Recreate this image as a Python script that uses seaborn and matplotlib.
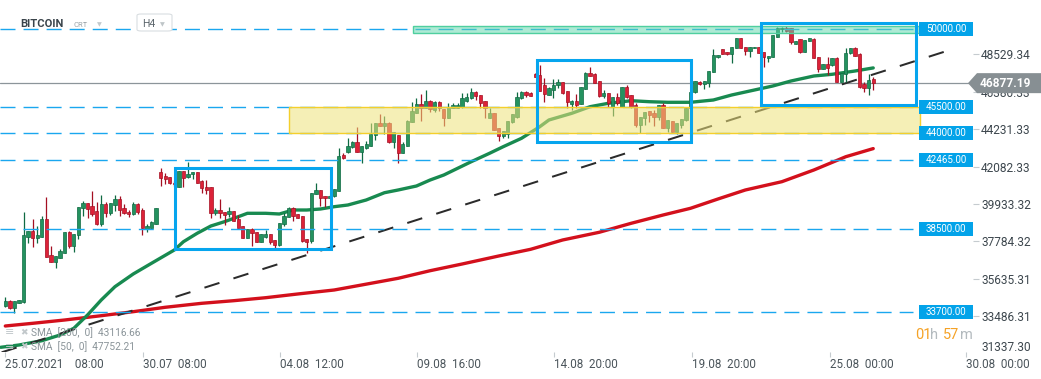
import numpy as np
import pandas as pd
import matplotlib
matplotlib.use('Agg')
import matplotlib.pyplot as plt
import matplotlib.transforms as mtransforms
from matplotlib.patches import Rectangle, Polygon, FancyBboxPatch
import seaborn as sns

sns.set_theme(style="white")
plt.rcParams['font.family'] = ['Roboto', 'DejaVu Sans']

# --- H4 candles (USD) ---
opens = [34090, 34342, 33975, 34262, 34319, 38054, 38399, 37997, 38054, 39054,
         36985, 36618, 36848, 37135, 38324, 37520, 38135, 39686, 39973, 39801,
         39514, 38767, 39916, 39433, 39876, 40203, 39686, 39491, 39341, 39916,
         39588, 38497, 38571, 38801, 41789, 41542, 41467, 41160, 40929, 41829,
         41467, 41639, 41755, 41255, 40893, 40893, 39399, 39588, 39456, 39341,
         39531, 39071, 38669, 37997, 38479, 38307, 37767, 38054, 38192, 37865,
         37577, 38767, 39203, 39686, 39341, 39244, 37922, 37824, 40491, 40738,
         40410, 40295, 40393, 40697, 42749, 42938, 43191, 43478, 42938, 43168,
         43283, 43898, 44570, 44432, 44570, 43478, 43898, 42846, 43283, 44628,
         45144, 45662, 45432, 45852, 45334, 45811, 45392, 44858, 45467, 45467,
         45524, 45869, 46007, 46386, 46196, 45869, 44892, 45144, 44283, 43858,
         43955, 44628, 44950, 46007, 46351, 46294, 47386, 47346, 46771, 46196,
         46484, 46771, 46961, 46426, 45679, 45852, 45679, 46541, 47478, 47386,
         47001, 46156, 46294, 45524, 46099, 45524, 46639, 46196, 45622, 44473,
         44858, 45277, 45144, 44950, 45622, 44318, 44702, 44053, 44473, 44743,
         45467, 46351, 46961, 46829, 46903, 47501, 48363, 48840, 48684, 48535,
         48880, 49454, 48937, 48742, 48880, 48972, 48650, 48340, 48397, 49546,
         49971, 50063, 50029, 49127, 49397, 48684, 49299, 49397, 48363, 47690,
         47960, 47920, 48340, 46961, 47403, 48592, 48880, 48535, 46829, 46616,
         47098]
highs = [34589, 34417, 34342, 34417, 39491, 38399, 39054, 38669, 39244, 40353,
         37520, 36945, 37330, 38341, 38382, 38209, 39744, 40123, 39973, 40663,
         40031, 40468, 40031, 40008, 40433, 40393, 39916, 39588, 40031, 40008,
         39721, 38767, 38956, 39686, 41984, 41732, 41467, 41230, 41829, 41829,
         42347, 41755, 41755, 41312, 41312, 40929, 39686, 40220, 39491, 39744,
         39531, 39301, 38669, 38479, 38571, 38341, 38192, 38439, 38192, 37865,
         38824, 39399, 39744, 39744, 39341, 39244, 37922, 40548, 41157, 40738,
         40410, 40450, 40778, 43168, 42846, 43743, 43553, 44375, 43266, 43553,
         44570, 44570, 45087, 44990, 44662, 44053, 43898, 43478, 44760, 45811,
         46041, 46237, 46484, 45909, 45852, 45852, 45392, 45719, 45719, 45754,
         46328, 46328, 46581, 46426, 46196, 45869, 45432, 45144, 44283, 44128,
         44702, 45087, 46386, 46426, 46426, 46366, 47461, 47920, 47156, 46673,
         47098, 47116, 46961, 46426, 45909, 46237, 46673, 47535, 47788, 47443,
         47001, 46484, 46294, 46099, 46294, 46639, 46771, 46196, 45719, 44950,
         45202, 45277, 45334, 45622, 45719, 44760, 44702, 44570, 44800, 45524,
         46426, 47001, 47020, 47001, 47575, 48840, 48495, 48840, 48684, 48972,
         49489, 49489, 48937, 48972, 48972, 48972, 48650, 48455, 49644, 50121,
         50121, 50161, 50029, 49317, 49397, 49357, 49454, 49489, 48397, 47960,
         48397, 48305, 48397, 47443, 48880, 48915, 48937, 48592, 46961, 47386,
         47248]
lows = [34032, 33883, 33687, 34227, 34262, 37710, 37480, 37710, 38020, 36871,
        36600, 36238, 36813, 37100, 37422, 37192, 37939, 39244, 39111, 39244,
        38709, 38690, 39203, 39301, 39548, 39244, 39359, 39203, 39301, 39341,
        38169, 38341, 38537, 38767, 40985, 41082, 41065, 40990, 40929, 40929,
        41410, 41370, 41122, 40548, 40491, 39111, 39301, 39111, 38727, 39203,
        38974, 38537, 37962, 37980, 37537, 37767, 37750, 37997, 37635, 37422,
        37537, 38669, 39168, 38974, 39111, 37767, 37135, 37710, 40491, 39818,
        39744, 40250, 40318, 40697, 42502, 42881, 43133, 42904, 42272, 43093,
        43283, 43611, 44432, 43955, 43421, 43133, 42272, 42846, 43283, 44628,
        45144, 44720, 45432, 45237, 45202, 45294, 44415, 44858, 45432, 45432,
        45467, 45811, 45966, 45909, 45432, 44858, 44858, 44185, 43553, 43708,
        43708, 44605, 44892, 45966, 46099, 46139, 47231, 46426, 45811, 46196,
        46007, 46581, 46237, 45432, 45334, 45432, 45679, 46541, 47305, 46869,
        46099, 46007, 45524, 45007, 45622, 45524, 46041, 45432, 44375, 43996,
        44473, 44662, 44432, 44760, 44283, 44088, 43996, 43955, 44283, 44702,
        45450, 46294, 46771, 46524, 46673, 47501, 48340, 48535, 48512, 48018,
        48880, 48880, 48495, 48363, 48880, 48592, 47822, 48110, 48397, 49546,
        49799, 49834, 49127, 49127, 48592, 48684, 49299, 48305, 47535, 47673,
        47346, 47880, 46926, 46926, 46961, 48535, 48437, 46616, 46351, 46196,
        46484]
closes = [34342, 33975, 34342, 34400, 38152, 38399, 37997, 38152, 39054, 36905,
          36618, 36945, 37250, 38324, 37537, 38209, 39744, 39973, 39663, 39359,
          38767, 39916, 39433, 40008, 40203, 39588, 39399, 39341, 39916, 39491,
          38571, 38669, 38899, 39686, 41410, 41370, 41157, 41060, 41829, 41444,
          41657, 41755, 41157, 40835, 40738, 39399, 39588, 39399, 39301, 39531,
          38974, 38571, 37997, 38479, 38250, 37767, 38192, 38192, 37767, 37577,
          38824, 39261, 39686, 39261, 39111, 37824, 37767, 40548, 40738, 40295,
          40295, 40410, 40778, 42691, 42559, 43266, 43478, 42938, 43266, 43381,
          43955, 44570, 44432, 44570, 43478, 44053, 42846, 43381, 44702, 45277,
          45662, 45432, 45852, 45375, 45811, 45432, 44858, 45524, 45622, 45622,
          46007, 46099, 46386, 46156, 45754, 45432, 45179, 44185, 43858, 44128,
          44702, 45087, 46099, 46351, 46196, 46156, 47248, 46426, 46237, 46616,
          46771, 46961, 46294, 45811, 45852, 45622, 46639, 47478, 47305, 46869,
          46156, 46328, 45719, 46099, 45719, 46639, 46099, 45524, 44473, 44950,
          45202, 45047, 44950, 45622, 44318, 44760, 44053, 44570, 44800, 45467,
          46351, 47001, 46811, 47001, 47575, 48495, 48495, 48552, 48535, 48972,
          49454, 48880, 48725, 48937, 48972, 48592, 48397, 48455, 49644, 50029,
          50029, 49874, 49224, 49317, 48684, 49357, 49454, 48305, 47690, 47960,
          47731, 48305, 46961, 47443, 48592, 48880, 48455, 46673, 46616, 47058,
          46877.19]

# moving averages (bar index, value)
sma50_idx = [-1, 3, 8, 12, 15, 18, 21, 24, 28, 32, 37, 39, 42, 45, 48, 51, 53, 57, 60, 63,
             66, 69, 72, 75, 79, 83, 86, 90, 93, 96, 102, 106, 109, 113, 117, 119, 124, 128,
             132, 137, 141, 145, 150, 155, 159, 164, 168, 172, 177, 181, 186, 190]
sma50_val = [31699, 31831, 32078, 32406, 32791, 33555, 34417, 35181, 35911, 36526,
             37290, 37767, 38250, 38669, 38918, 39203, 39399, 39399, 39359, 39588,
             39588, 39646, 39778, 39876, 40163, 40582, 40738, 40967, 41312, 41600,
             42364, 42846, 43226, 43708, 44375, 44760, 45144, 45524, 45719, 45869,
             45811, 45777, 45777, 45909, 46196, 46484, 46713, 47001, 47288, 47386,
             47575, 47752.21]
sma200_idx = [0, 6, 13, 21, 28, 35, 43, 50, 57, 64, 72, 78, 86, 93, 100, 108, 115, 122,
              130, 137, 144, 150, 156, 162, 170, 177, 184, 190]
sma200_val = [32923, 33078, 33268, 33515, 33745, 33998, 34227, 34377, 34549, 34762,
              34992, 35279, 35664, 36100, 36485, 36945, 37330, 37865, 38307, 38824,
              39301, 39686, 40220, 40738, 41215, 41887, 42651, 43116.66]

levels = [50000.00, 45500.00, 44000.00, 42465.00, 38500.00, 33700.00]
ytick_vals = [48529.34, 46380.33, 44231.33, 42082.33, 39933.32, 37784.32, 35635.31, 33486.31]
bottom_label = '31337.30'
xtick_pos = [-0.07, 30.1, 60.1, 90.1, 120.1, 150.3, 180.5, 210.3]
xtick_labels = ['25.07.2021    08:00', '30.07  08:00', '04.08  12:00', '09.08  16:00',
                '14.08  20:00', '19.08  20:00', '25.08  00:00', '30.08  00:00']
last_price = 46877.19

# annotations drawn on the chart (bar index / price)
trend = ([-0.8, 208.3], [31410, 48910])
boxes = [(37.1, 71.2, 37347, 42030), (116.4, 150.2, 43478, 48190), (165.4, 199.4, 45639, 50333)]
yellow_zone = (62.2, 200.3, 44000, 45500)
green_zone = (89.3, 200.0, 49770, 50155)

df = pd.DataFrame({'i': np.arange(len(opens)), 'open': opens, 'high': highs,
                   'low': lows, 'close': closes})
df['up'] = df['close'] >= df['open']

W, H = 1041, 379
fig = plt.figure(figsize=(W / 100, H / 100), dpi=100)
ax = fig.add_axes([0, 27 / H, 973 / W, 352 / H])
ax.set_xlim(-1.16, 211.84)
ax.set_ylim(31429, 51655)

def fx(px):
    return px / W

def fy(py):
    return 1 - py / H

GREEN, GREEN_E = '#24925f', '#0f6a42'
RED, RED_E = '#dc2238', '#a40f22'
BLUE = '#06a5ee'

# current price line
ax.axhline(last_price, color='#8c959a', lw=0.9, zorder=1)

# moving averages and trend line
sns.lineplot(x=sma200_idx, y=sma200_val, ax=ax, color='#d3101c', lw=2.4, zorder=2,
             solid_capstyle='round')
sns.lineplot(x=sma50_idx, y=sma50_val, ax=ax, color='#188a50', lw=2.4, zorder=2,
             solid_capstyle='round')
ax.plot(trend[0], trend[1], color='#2b2b2b', lw=1.45, dashes=(7.8, 7.3), zorder=2.5)

# candles
wick_col = np.where(df['up'], GREEN_E, RED_E)
ax.vlines(df['i'], df['low'], df['high'], colors=wick_col, lw=0.9, zorder=3)
body_lo = df[['open', 'close']].min(axis=1)
body_h = (df['close'] - df['open']).abs().clip(lower=45)
ax.bar(df['i'], body_h, bottom=body_lo, width=0.72,
       color=np.where(df['up'], GREEN, RED), edgecolor=wick_col, linewidth=0.5, zorder=3.2)

# horizontal levels
for lv in levels:
    ax.plot([-1.16, 198.7], [lv, lv], color='#1aa7ef', lw=1.0, dashes=(10.8, 5.8), zorder=3.5)

# zones (translucent, over the candles)
x0, x1, y0, y1 = yellow_zone
ax.add_patch(Rectangle((x0, y0), x1 - x0, y1 - y0, fc='#eee27a', alpha=0.55, ec='none', zorder=4))
ax.add_patch(Rectangle((x0, y0), x1 - x0, y1 - y0, fill=False, ec='#f4cf2c', lw=1.0, zorder=4.1))
x0, x1, y0, y1 = green_zone
ax.add_patch(Rectangle((x0, y0), x1 - x0, y1 - y0, fc='#5fd6aa', alpha=0.5, ec='none', zorder=4))
ax.add_patch(Rectangle((x0, y0), x1 - x0, y1 - y0, fill=False, ec='#4fcf9f', lw=1.0, zorder=4.1))

# highlight boxes
for bx0, bx1, by0, by1 in boxes:
    ax.add_patch(Rectangle((bx0, by0), bx1 - bx0, by1 - by0, fill=False, ec=BLUE,
                           lw=2.2, zorder=5))

# level tags on the right
blend = mtransforms.blended_transform_factory(ax.transAxes, ax.transData)
for lv in levels:
    ax.add_patch(Rectangle((919 / 973, lv - 402), 54 / 973, 804, transform=blend,
                           fc='#03a3e9', ec='none', zorder=6, clip_on=False))
    ax.text(946 / 973, lv, f'{lv:.2f}', transform=blend, ha='center', va='center',
            color='white', fontsize=7, zorder=7)

# axes / ticks
sns.despine(ax=ax, left=True, bottom=True, right=True, top=True)
ax.grid(False)
ax.set_xlabel('')
ax.set_ylabel('')
ax.yaxis.tick_right()
ax.set_yticks(ytick_vals)
ax.set_yticklabels([f'{v:.2f}' for v in ytick_vals])
ax.tick_params(axis='y', right=True, length=4.3, width=0.8, color='#c5cbcf', pad=1.5,
               labelsize=8.6, labelcolor='#3d474e')
ax.set_xticks(xtick_pos)
ax.set_xticklabels(xtick_labels)
ax.tick_params(axis='x', bottom=True, length=3.6, width=0.8, color='#c5cbcf', pad=0.5,
               labelsize=8.4, labelcolor='#4a545a')
for lbl in ax.get_xticklabels():
    lbl.set_ha('left')
ax.text(981 / 973, 31659, bottom_label, transform=blend, ha='left', va='center',
        fontsize=8.6, color='#3d474e')

# current price tag
yc = ax.transData.transform((0, last_price))[1] / H
hh = 10 / H
fig.add_artist(Polygon([(fx(968), yc), (fx(977), yc + hh), (1, yc + hh), (1, yc - hh),
                        (fx(977), yc - hh)], closed=True, fc='#878f93', ec='none',
                       transform=fig.transFigure, zorder=5))
fig.text(fx(1005), yc, f'{last_price:.2f}', ha='center', va='center', color='white',
         fontsize=8.6, fontweight='bold', zorder=6)

# header
fig.text(fx(20), fy(27), 'BITCOIN', fontsize=8, fontweight='bold', color='#3a444b')
fig.text(fx(74), fy(27), 'CRT', fontsize=5.5, color='#9aa3a8')
fig.text(fx(97), fy(26), '▼', fontsize=4.5, color='#c3c9cc', family=['DejaVu Sans'])
fig.add_artist(FancyBboxPatch((fx(137), fy(31)), fx(35), 17 / H,
                              boxstyle='round,pad=0,rounding_size=0.004',
                              fc='white', ec='#d9dee1', lw=0.8, transform=fig.transFigure,
                              zorder=5))
fig.text(fx(142), fy(27), 'H4', fontsize=7.5, color='#5b656b', zorder=6)
fig.text(fx(160), fy(26), '▼', fontsize=4.5, color='#bfc5c8', family=['DejaVu Sans'], zorder=6)

# indicator legend
for row_y, txt in [(332.3, 'SMA  [200,  0]  43116.66'), (346.7, 'SMA  [50,  0]  47752.21')]:
    fig.text(fx(5), fy(row_y), '≡', fontsize=8, color='#c2c8cb', va='center',
             family=['DejaVu Sans'])
    fig.text(fx(20), fy(row_y), '✖', fontsize=6.5, color='#c2c8cb', va='center',
             family=['DejaVu Sans'])
    fig.text(fx(31), fy(row_y), txt, fontsize=7.3, color='#8a9499', va='center')

# candle timer
for px, t, c in [(915, '01', '#f5a226'), (930, 'h', '#b3babe'), (943, '57', '#f5a226'),
                 (960, 'm', '#b3babe')]:
    fig.text(fx(px), fy(339.3), t, fontsize=10.5, color=c, va='baseline')

fig.savefig('out.png', dpi=100, facecolor='white')
